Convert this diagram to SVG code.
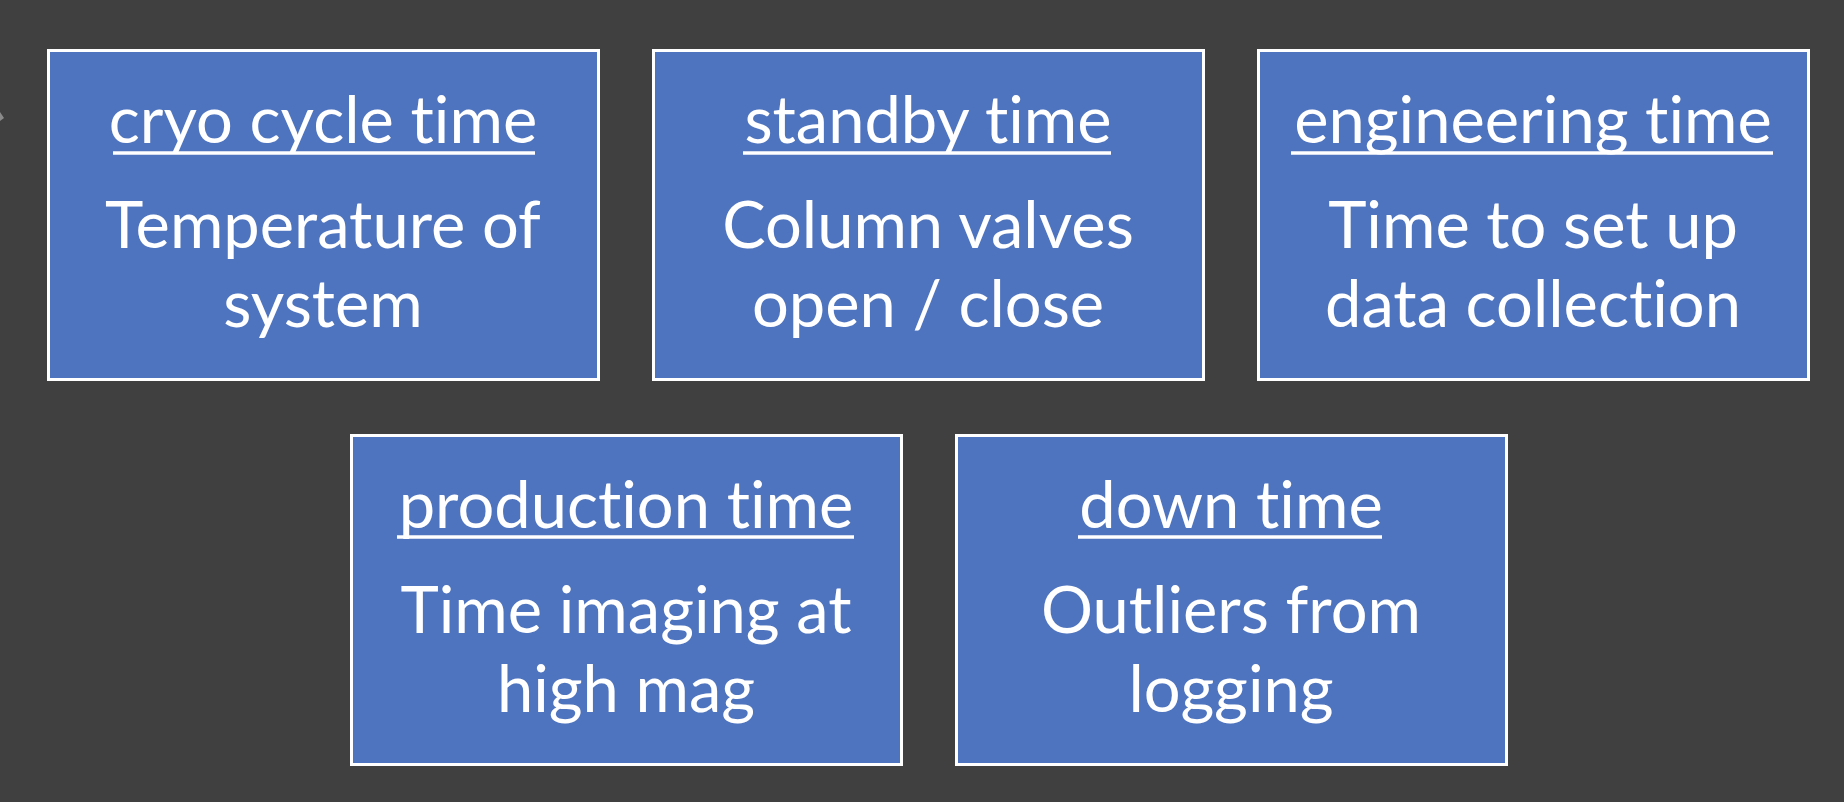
<svg xmlns="http://www.w3.org/2000/svg" width="1844" height="802" viewBox="0 0 1844 802">
<style>
.bg{fill:#404040}
.box{fill:#4F74BF;stroke:#FFFFFF;stroke-width:3}
.t{font-family:Lato,"Open Sans","Liberation Sans",sans-serif;font-size:65px;fill:#FFFFFF;text-anchor:middle;font-variant-ligatures:none}
.u{stroke:#FFFFFF;stroke-width:3.5}
</style>
<rect class="bg" x="0" y="0" width="1844" height="802"/>
<polygon points="0,112 4,118 0,121" fill="#8a8a8a"/>
<g id="connectors"></g>
<g id="cryo">
<rect class="box" x="48.5" y="50.5" width="550" height="329"/>
<text class="t" x="323" y="143">cryo cycle time</text>
<line class="u" x1="113" y1="153" x2="535" y2="153"/>
<text class="t" x="323" y="248">Temperature of</text>
<text class="t" x="323" y="327">system</text>
</g>
<g id="standby">
<rect class="box" x="653.5" y="50.5" width="550" height="329"/>
<text class="t" x="928" y="143">standby time</text>
<line class="u" x1="743" y1="153" x2="1111" y2="153"/>
<text class="t" x="928" y="248">Column valves</text>
<text class="t" x="928" y="327">open / close</text>
</g>
<g id="engineering">
<rect class="box" x="1258.5" y="50.5" width="550" height="329"/>
<text class="t" x="1533" y="143">engineering time</text>
<line class="u" x1="1291" y1="153" x2="1773" y2="153"/>
<text class="t" x="1533" y="248">Time to set up</text>
<text class="t" x="1533" y="327">data collection</text>
</g>
<g id="production">
<rect class="box" x="351.5" y="435.5" width="550" height="329"/>
<text class="t" x="626" y="528">production time</text>
<line class="u" x1="397" y1="537" x2="854" y2="537"/>
<text class="t" x="626" y="633">Time imaging at</text>
<text class="t" x="626" y="712">high mag</text>
</g>
<g id="down">
<rect class="box" x="956.5" y="435.5" width="550" height="329"/>
<text class="t" x="1231" y="528">down time</text>
<line class="u" x1="1078" y1="537" x2="1382" y2="537"/>
<text class="t" x="1231" y="633">Outliers from</text>
<text class="t" x="1231" y="712">logging</text>
</g>
</svg>
